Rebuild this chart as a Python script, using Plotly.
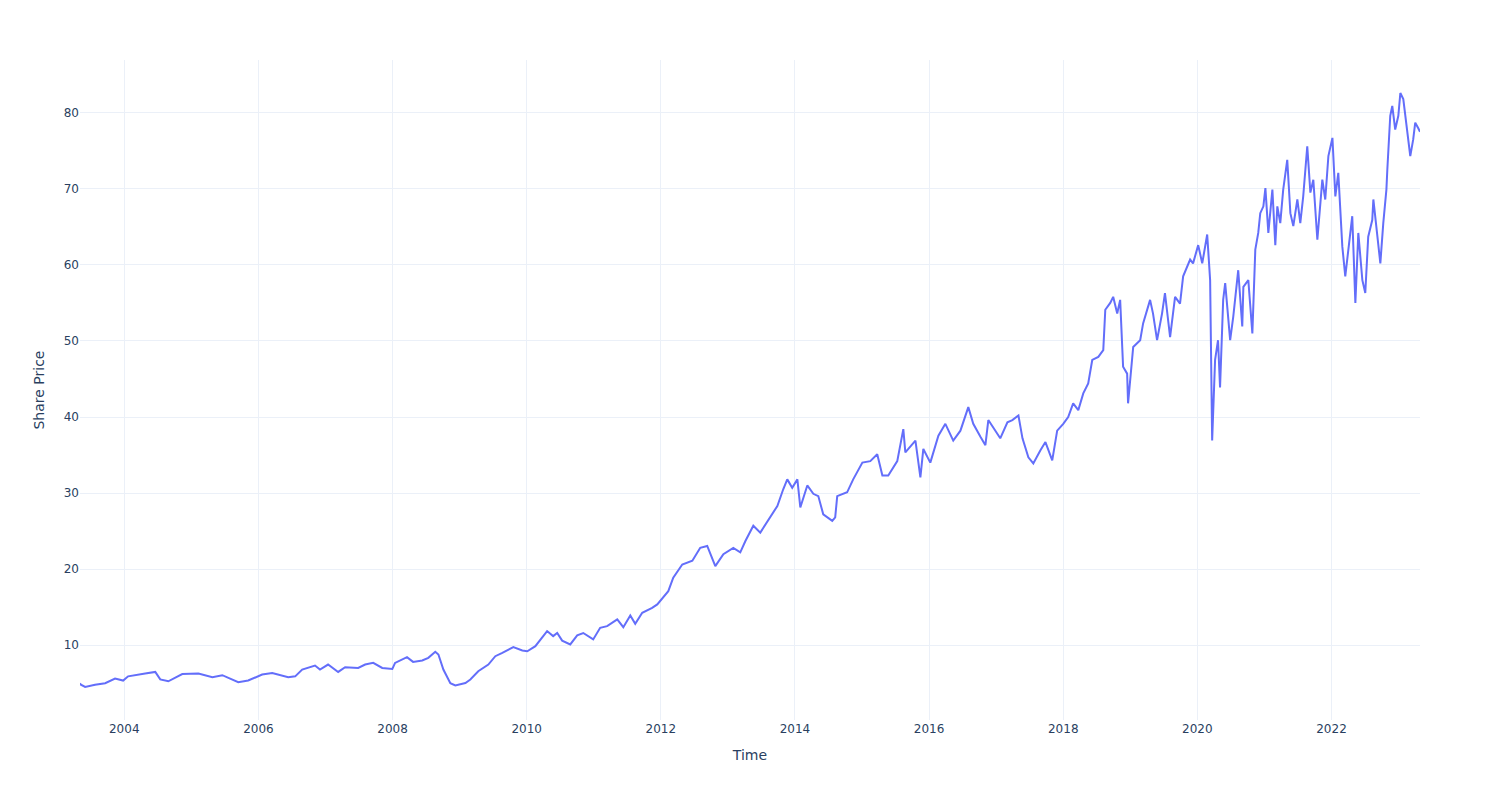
import plotly.graph_objects as go
import pandas as pd

dates = [
    "2003-05-05", "2003-05-10", "2003-06-02", "2003-07-26", "2003-09-19", "2003-11-12", "2003-12-26",
    "2004-01-22", "2004-04-24", "2004-06-18", "2004-07-15", "2004-08-28", "2004-11-12",
    "2005-02-08", "2005-04-25", "2005-06-18", "2005-09-13", "2005-11-06",
    "2006-01-21", "2006-03-17", "2006-06-12", "2006-07-20", "2006-08-27", "2006-11-05", "2006-12-02",
    "2007-01-15", "2007-03-11", "2007-04-18", "2007-06-28", "2007-08-05", "2007-09-18", "2007-11-06", "2007-12-31",
    "2008-01-15", "2008-03-20", "2008-04-22", "2008-06-11", "2008-07-14", "2008-08-21", "2008-09-07",
    "2008-10-04", "2008-11-11", "2008-12-08",
    "2009-02-01", "2009-02-28", "2009-04-12", "2009-06-06", "2009-07-14", "2009-08-21", "2009-10-20", "2009-12-08",
    "2010-01-04", "2010-02-17", "2010-04-22", "2010-05-25", "2010-06-16", "2010-07-13", "2010-08-26",
    "2010-10-03", "2010-11-05", "2010-12-29",
    "2011-02-05", "2011-03-15", "2011-05-09", "2011-06-11", "2011-07-19", "2011-08-15", "2011-09-22",
    "2011-11-15", "2011-12-13",
    "2012-02-11", "2012-03-09", "2012-04-27", "2012-06-21", "2012-08-03", "2012-09-10", "2012-10-24", "2012-12-07",
    "2013-01-30", "2013-03-09", "2013-04-06", "2013-05-19", "2013-06-26", "2013-08-19", "2013-09-27",
    "2013-10-29", "2013-11-20", "2013-12-17",
    "2014-01-14", "2014-01-30", "2014-03-09", "2014-04-11", "2014-05-08", "2014-06-04", "2014-07-23",
    "2014-08-08", "2014-08-19", "2014-10-12", "2014-11-14",
    "2015-01-03", "2015-02-15", "2015-03-25", "2015-04-22", "2015-05-24", "2015-07-12", "2015-08-14",
    "2015-08-25", "2015-10-19", "2015-11-15", "2015-12-01",
    "2016-01-08", "2016-02-21", "2016-03-30", "2016-05-12", "2016-06-20", "2016-08-02", "2016-08-29",
    "2016-10-07", "2016-11-03", "2016-11-19",
    "2017-01-07", "2017-01-23", "2017-03-03", "2017-03-30", "2017-05-02", "2017-05-24", "2017-06-25",
    "2017-07-22", "2017-08-29", "2017-09-26", "2017-11-02", "2017-11-29",
    "2018-01-01", "2018-01-28", "2018-02-24", "2018-03-24", "2018-04-20", "2018-05-17", "2018-06-08",
    "2018-07-11", "2018-08-07", "2018-08-18", "2018-09-14", "2018-09-30", "2018-10-22", "2018-11-07",
    "2018-11-23", "2018-12-15", "2018-12-20",
    "2019-01-17", "2019-02-24", "2019-03-12", "2019-04-19", "2019-05-05", "2019-05-27", "2019-06-23",
    "2019-07-09", "2019-08-06", "2019-09-02", "2019-09-29", "2019-10-16", "2019-11-23", "2019-12-09",
    "2020-01-06", "2020-01-28", "2020-02-24", "2020-03-11", "2020-03-22", "2020-04-07", "2020-04-23",
    "2020-05-04", "2020-05-21", "2020-06-01", "2020-06-28", "2020-07-15", "2020-08-11", "2020-09-02",
    "2020-09-08", "2020-10-05", "2020-10-27", "2020-11-12", "2020-11-28", "2020-12-09", "2020-12-26",
    "2021-01-06", "2021-01-22", "2021-02-13", "2021-03-01", "2021-03-12", "2021-03-28", "2021-04-13",
    "2021-05-05", "2021-05-22", "2021-06-07", "2021-06-29", "2021-07-15", "2021-07-31", "2021-08-22",
    "2021-09-08", "2021-09-24", "2021-10-16", "2021-11-12", "2021-11-28", "2021-12-15",
    "2022-01-06", "2022-01-22", "2022-02-07", "2022-03-01", "2022-03-17", "2022-04-03", "2022-04-24",
    "2022-05-11", "2022-05-27", "2022-06-18", "2022-07-04", "2022-07-20", "2022-08-11", "2022-08-17",
    "2022-09-08", "2022-09-24", "2022-10-10", "2022-10-27", "2022-11-01", "2022-11-17", "2022-11-28",
    "2022-12-14", "2022-12-31",
    "2023-01-11", "2023-01-27", "2023-02-18", "2023-03-06", "2023-03-22", "2023-04-02", "2023-04-18",
    "2023-04-28",
]

share_price = [
    5.0, 4.8, 4.5, 4.8, 5.0, 5.6, 5.35,
    5.9, 6.27, 6.48, 5.5, 5.25, 6.2,
    6.27, 5.78, 6.05, 5.12, 5.35,
    6.14, 6.35, 5.78, 5.9, 6.8, 7.32, 6.8,
    7.45, 6.48, 7.1, 7.0, 7.45, 7.67, 7.0, 6.88,
    7.67, 8.42, 7.8, 7.98, 8.33, 9.12, 8.77,
    6.8, 5.0, 4.7,
    5.03, 5.48, 6.57, 7.45, 8.55, 8.99, 9.74, 9.3,
    9.2, 9.87, 11.85, 11.19, 11.6, 10.6, 10.1,
    11.3, 11.6, 10.75,
    12.28, 12.5, 13.4, 12.37, 13.9, 12.8, 14.26,
    14.9, 15.36,
    17.1, 18.87, 20.6, 21.1, 22.8, 23.05, 20.4, 21.96,
    22.8, 22.2, 23.7, 25.7, 24.8, 26.8, 28.3,
    30.5, 31.8, 30.7,
    31.8, 28.1, 31.0, 29.9, 29.6, 27.2, 26.35,
    26.8, 29.6, 30.1, 31.8,
    34.0, 34.2, 35.1, 32.3, 32.3, 34.2, 38.4,
    35.35, 36.9, 32.06, 35.8,
    34.0, 37.55, 39.1, 36.9, 38.2, 41.3, 39.1,
    37.4, 36.3, 39.6,
    37.8, 37.2, 39.3, 39.6, 40.2, 37.2, 34.7,
    33.9, 35.6, 36.7, 34.3, 38.2,
    39.1, 40.0, 41.8, 40.9, 43.1, 44.4, 47.5,
    47.9, 48.8, 54.1, 55.0, 55.8, 53.6, 55.4,
    46.6, 45.7, 41.8,
    49.2, 50.1, 52.3, 55.4, 53.6, 50.1, 53.6,
    56.3, 50.5, 55.8, 54.9, 58.5, 60.7, 60.2,
    62.6, 60.2, 64.0, 58.0, 36.9, 47.5, 50.1,
    43.9, 55.4, 57.6, 50.1, 53.2, 59.3, 51.9,
    57.1, 58.0, 51.0, 62.0, 64.2, 66.8, 67.7,
    70.1, 64.2, 69.9, 62.6, 67.7, 65.5, 69.9,
    73.8, 66.8, 65.1, 68.6, 65.5, 69.0, 75.6,
    69.5, 71.2, 63.3, 71.2, 68.6, 74.3,
    76.7, 69.0, 72.1, 62.4, 58.5, 62.4, 66.4,
    55.0, 64.2, 58.0, 56.3, 63.7, 65.9, 68.6,
    63.3, 60.2, 65.5, 69.9, 72.5, 79.6, 80.9,
    77.8, 79.6,
    82.6, 81.8, 77.8, 74.3, 76.5, 78.7, 78.0,
    77.5,
]

df = pd.DataFrame({"Time": pd.to_datetime(dates), "Share Price": share_price})

fig = go.Figure()
fig.add_trace(go.Scatter(
    x=df["Time"], y=df["Share Price"], mode="lines",
    line=dict(color="#636efa", width=2), showlegend=False,
))
fig.update_layout(
    template="plotly_white",
    font=dict(family="DejaVu Sans"),
    width=1500, height=800,
    margin=dict(t=60, l=80, r=80, b=80),
    xaxis_title="Time",
    yaxis_title="Share Price",
)
fig.write_html("out.html")
